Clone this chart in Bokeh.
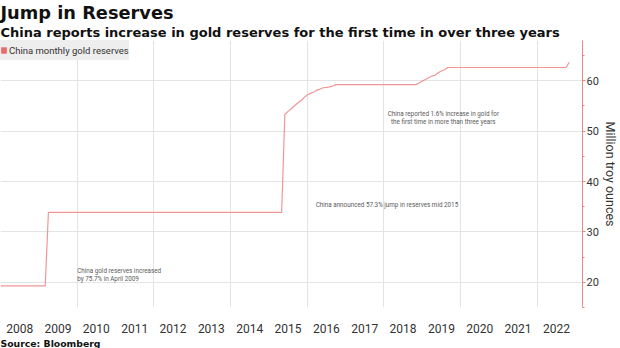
from bokeh.plotting import figure
from bokeh.models import Range1d, FixedTicker, Title, Label, Legend, LegendItem
from bokeh.embed import file_html
from bokeh.resources import INLINE

# ---- data (million troy ounces), change points of the monthly series ----
months = ["2008-01", "2009-03", "2009-04", "2015-05", "2015-06", "2015-07", "2015-08",
          "2015-09", "2015-10", "2015-11", "2015-12", "2016-01", "2016-02", "2016-03",
          "2016-04", "2016-05", "2016-06", "2016-07", "2016-08", "2016-09", "2016-10",
          "2018-11", "2018-12", "2019-01", "2019-02", "2019-03", "2019-04", "2019-05",
          "2019-06", "2019-07", "2019-08", "2019-09", "2022-10", "2022-11"]
reserves = [19.29, 19.29, 33.89, 33.89, 53.31, 53.93, 54.45,
            55.00, 55.60, 56.05, 56.66, 57.18, 57.51, 57.78,
            58.14, 58.36, 58.62, 58.69, 58.81, 58.97, 59.24,
            59.24, 59.56, 59.94, 60.26, 60.62, 60.94, 61.10,
            61.61, 61.94, 62.19, 62.64, 62.64, 63.67]

years = list(range(2008, 2023))
year_labels = [str(y) for y in years]
grid_years = [2010, 2012, 2014, 2016, 2018, 2020, 2022]
y_ticks = [20, 30, 40, 50, 60]
y_minor = [15, 25, 35, 45, 55, 65]

notes = [
    ("China gold reserves increased", 2010.0, 22.3, "left"),
    ("by 75.7% in April 2009", 2010.0, 20.7, "left"),
    ("China announced 57.3% jump in reserves mid 2015", 2016.22, 35.4, "left"),
    ("China reported 1.6% increase in gold for", 2019.55, 53.4, "center"),
    ("the first time in more than three years", 2019.55, 51.8, "center"),
]


def to_dec(s):
    y, m = s.split("-")
    return int(y) + (int(m) - 1) / 12.0


xs = [to_dec(m) for m in months]

FONT = "Roboto"
TFONT = "DejaVu Sans"
LINE = "#f19595"
AXIS_RED = "#e58a8a"

p = figure(width=620, height=348, output_backend="svg", toolbar_location=None,
           title=None, x_range=Range1d(2008.0, 2023.18), y_range=Range1d(15, 68),
           y_axis_location="right", min_border_left=0, min_border_right=0,
           min_border_top=0, min_border_bottom=0, outline_line_color=None)

line_r = p.line(xs, reserves, line_color=LINE, line_width=1.2)

# legend swatch: zero-size quad at the first data point (invisible on the plot)
sq = p.quad(left=[xs[0]], right=[xs[0]], top=[reserves[0]], bottom=[reserves[0]],
            fill_color="#e86a6a", line_color=None)
legend = Legend(items=[LegendItem(label="China monthly gold reserves", renderers=[sq])],
                location="top_left", background_fill_color="#eeeeee", background_fill_alpha=1,
                border_line_color=None, margin=0, padding=4, spacing=0,
                label_text_font=FONT, label_text_font_size="9.5px", label_text_color="#333333",
                glyph_width=7, glyph_height=8, label_standoff=2, label_height=20)
p.add_layout(legend)

# x axis
xa = p.xaxis[0]
xa.ticker = FixedTicker(ticks=[y + 0.5 for y in years], minor_ticks=[])
xa.major_label_overrides = {y + 0.5: lab for y, lab in zip(years, year_labels)}
xa.axis_line_color = None
xa.major_tick_line_color = None
xa.minor_tick_line_color = None
xa.major_label_standoff = 10
xa.major_label_text_font = FONT
xa.major_label_text_font_size = "12px"
xa.major_label_text_color = "#333333"

p.xgrid.ticker = FixedTicker(ticks=grid_years)
p.xgrid.grid_line_color = "#e4e4e4"

# y axis (right)
ya = p.yaxis[0]
ya.ticker = FixedTicker(ticks=y_ticks, minor_ticks=y_minor)
ya.axis_line_color = AXIS_RED
ya.major_tick_line_color = AXIS_RED
ya.minor_tick_line_color = AXIS_RED
ya.major_tick_in = 0
ya.major_tick_out = 3
ya.minor_tick_in = 0
ya.minor_tick_out = 2
ya.major_label_standoff = 1
ya.major_label_text_font = FONT
ya.major_label_text_font_size = "11px"
ya.major_label_text_color = "#333333"
ya.axis_label = "Million troy ounces"
ya.axis_label_text_font = FONT
ya.axis_label_text_font_size = "12.5px"
ya.axis_label_text_font_style = "normal"
ya.axis_label_text_color = "#333333"
ya.axis_label_standoff = 1

p.ygrid.ticker = FixedTicker(ticks=y_ticks)
p.ygrid.grid_line_color = "#e4e4e4"

# annotations
for txt, x, y, al in notes:
    p.add_layout(Label(x=x, y=y, text=txt, text_font=FONT, text_font_size="6.3px",
                       text_color="#5a5a5a", text_align=al, text_baseline="middle"))

# titles (first added is closest to the frame)
p.add_layout(Title(text="China reports increase in gold reserves for the first time in over three years",
                   text_font=TFONT, text_font_size="13px", text_font_style="bold",
                   text_color="#111111", offset=0, standoff=2), "above")
p.add_layout(Title(text="Jump in Reserves", text_font=TFONT, text_font_size="17.8px",
                   text_font_style="bold", text_color="#111111", offset=0, standoff=-2), "above")
p.add_layout(Title(text="Source: Bloomberg", text_font=TFONT, text_font_size="9.3px",
                   text_font_style="bold", text_color="#111111", offset=0, standoff=0), "below")

open("out.html", "w").write(file_html(p, INLINE))
